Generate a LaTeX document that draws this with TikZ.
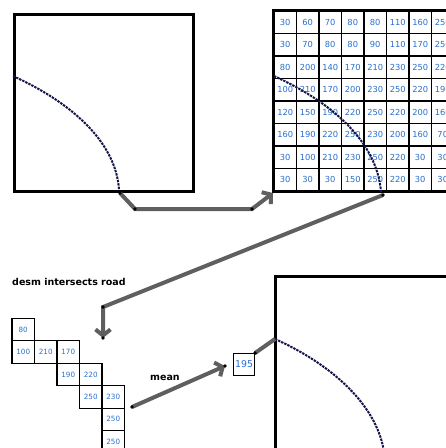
\documentclass[tikz,border=0pt]{standalone}
\usepackage{fontspec}
\setmainfont{DejaVu Sans}
\usetikzlibrary{arrows.meta}
\definecolor{numblue}{RGB}{40,110,205}
\definecolor{linkgray}{RGB}{95,95,95}
\definecolor{roadnavy}{RGB}{20,20,75}
\begin{document}
\begin{tikzpicture}[x=1pt,y=-1pt,
  frame/.style={draw=black,line width=3pt},
  gridcell/.style={draw=black,line width=1.3pt,minimum width=22.5pt,minimum height=22.5pt,
    inner sep=0pt,text=numblue,font=\fontsize{8.3}{9}\selectfont},
  stepcell/.style={draw=black,line width=1.1pt,minimum width=22.5pt,minimum height=22.4pt,
    inner sep=0pt,text=numblue,font=\fontsize{7.2}{8}\selectfont},
  meanbox/.style={draw=black,line width=1.1pt,minimum width=21pt,minimum height=22pt,
    inner sep=0pt,text=numblue,font=\fontsize{9.4}{10}\selectfont},
  road/.style={draw=roadnavy,line width=2pt,dash pattern=on 2.4pt off 1pt},
  link/.style={draw=linkgray,line width=4pt},
  linkarrow/.style={link,-{Straight Barb[length=6pt,width=15pt]}},
  handle/.style={fill=black},
  caption/.style={font=\bfseries\fontsize{9.5}{10}\selectfont,anchor=base west,inner sep=0pt}]
\useasboundingbox (0,0) rectangle (446,448);
\clip (0,0) rectangle (446,448);

% scene with the road
\node[frame,minimum width=179pt,minimum height=177pt,anchor=north west] (scene) at (13,13) {};
\coordinate (sceneRoadA) at (13,76);
\coordinate (sceneRoadB) at (119,190);
\draw[road] (sceneRoadA) .. controls (68,101) and (116,140) .. (sceneRoadB);

% raster of values
\foreach \row [count=\r] in {
  {30,60,70,80,80,110,160,250},
  {30,70,80,80,90,110,170,250},
  {80,200,140,170,210,230,250,220},
  {100,210,170,200,230,250,220,190},
  {120,150,190,220,250,220,200,160},
  {160,190,220,250,230,200,160,70},
  {30,100,210,230,250,220,30,30},
  {30,30,30,150,250,220,30,30}}{
  \foreach \v [count=\c] in \row {
    \node[gridcell] (g-\r-\c) at ({274+22.5*(\c-0.5)},{11+22.5*(\r-0.5)}) {\v};
  }
}
\draw[frame] (g-1-1.north west) rectangle (g-8-8.south east);
\coordinate (gridRoadA) at (274,76);
\coordinate (gridRoadB) at (381,192);
\draw[road] (gridRoadA) .. controls (329,101) and (377,140) .. (gridRoadB);

% cells that the road crosses
\node[stepcell] (s-1-1) at ({12+22.5*0.5},{318.5+22.4*0.5}) {80};
\node[stepcell] (s-2-1) at ({12+22.5*0.5},{318.5+22.4*1.5}) {100};
\node[stepcell] (s-2-2) at ({12+22.5*1.5},{318.5+22.4*1.5}) {210};
\node[stepcell] (s-2-3) at ({12+22.5*2.5},{318.5+22.4*1.5}) {170};
\node[stepcell] (s-3-3) at ({12+22.5*2.5},{318.5+22.4*2.5}) {190};
\node[stepcell] (s-3-4) at ({12+22.5*3.5},{318.5+22.4*2.5}) {220};
\node[stepcell] (s-4-4) at ({12+22.5*3.5},{318.5+22.4*3.5}) {250};
\node[stepcell] (s-4-5) at ({12+22.5*4.5},{318.5+22.4*3.5}) {230};
\node[stepcell] (s-5-5) at ({12+22.5*4.5},{318.5+22.4*4.5}) {250};
\node[stepcell] (s-6-5) at ({12+22.5*4.5},{318.5+22.4*5.5}) {250};

% mean value
\node[meanbox,anchor=north west] (mean) at (233,353) {195};

% result scene
\node[frame,minimum width=190pt,minimum height=190pt,anchor=north west] (result) at (274,275) {};
\coordinate (resultRoadA) at (275,339);
\coordinate (resultRoadB) at (385,462);
\draw[road] (resultRoadA) .. controls (335,366) and (383,410) .. (resultRoadB);

% labels
\node[caption] (desmLabel) at (12,285) {desm intersects road};
\node[caption] (meanLabel) at (150,380) {mean};

% connectors
\coordinate (k1) at (135,209);
\coordinate (k2) at (252,209);
\coordinate (gridIn) at (273,193);
\coordinate (sceneOut) at (120,193);
\draw[linkarrow] (sceneOut) -- (k1) -- (k2) -- (gridIn);

\coordinate (gridOut) at (383,195);
\coordinate (k3) at (103,307);
\coordinate (stepIn) at (103,338);
\draw[linkarrow] (gridOut) -- (k3) -- (stepIn);

\coordinate (stepOut) at (132,407);
\coordinate (meanIn) at (225,366);
\draw[linkarrow] (stepOut) -- (meanIn);

\draw[link] (mean.north east) -- (resultRoadA);

% drawing handles on the connector ends
\foreach \p in {sceneOut,k1,k2,gridOut,k3,stepIn,stepOut,meanIn,mean.north east}
  \fill[handle] (\p) circle (1.9pt);
\end{tikzpicture}
\end{document}
